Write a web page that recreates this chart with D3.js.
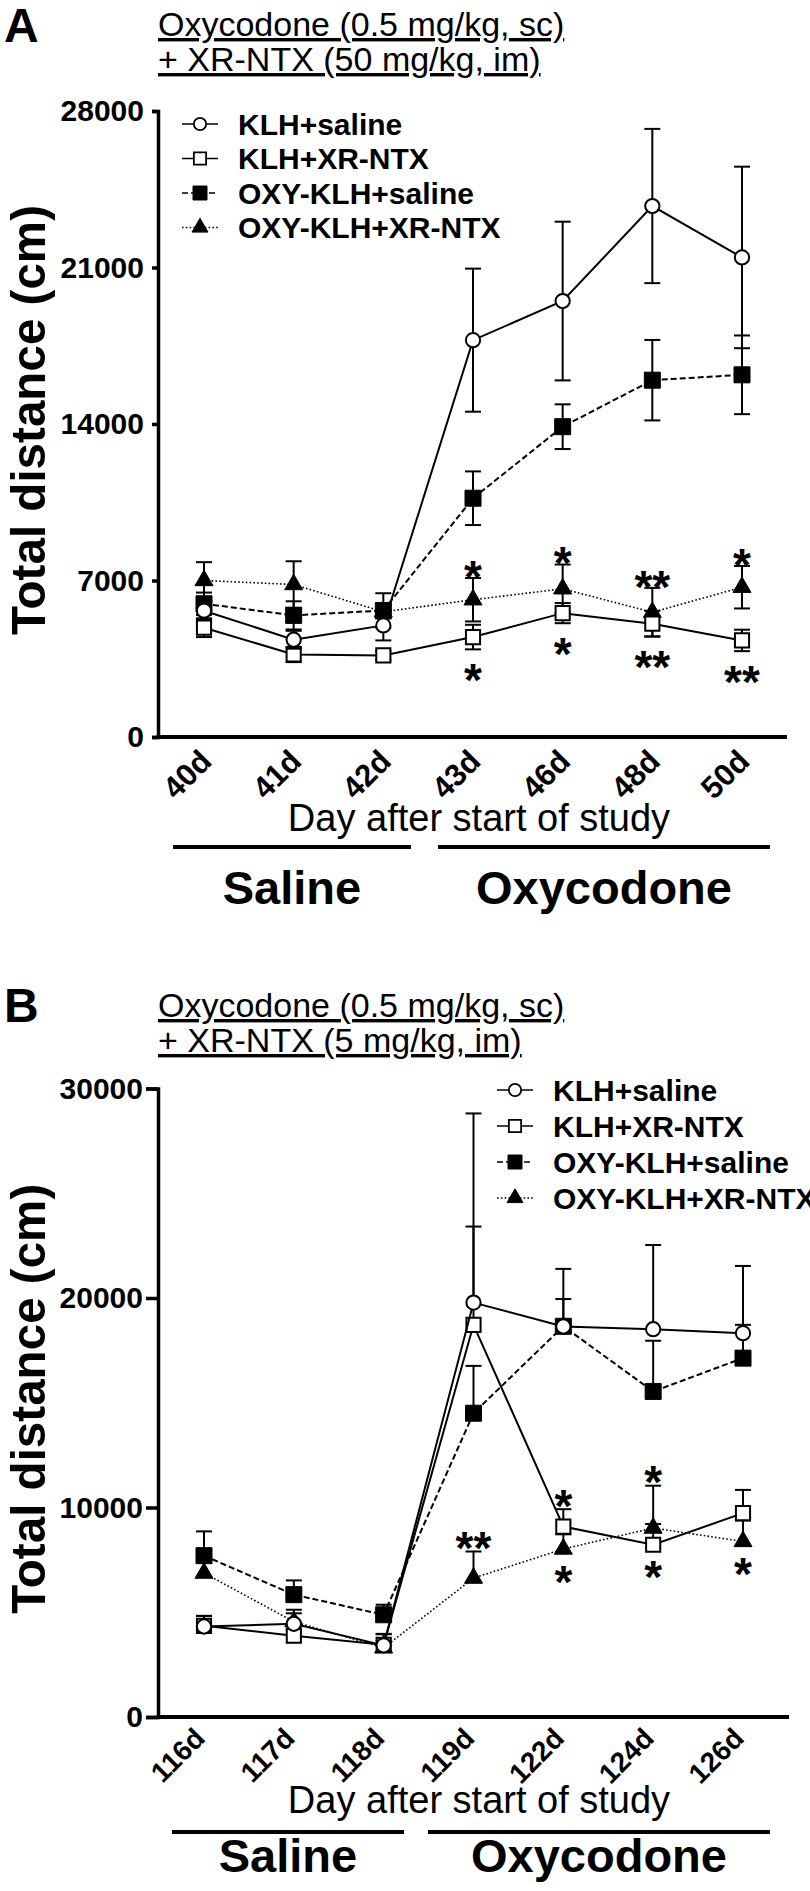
<!DOCTYPE html>
<html>
<head>
<meta charset="utf-8">
<script src="https://cdn.jsdelivr.net/npm/d3@7"></script>
<style>
  body { margin: 0; background: #fff; }
  svg { display: block; font-family: "Liberation Sans", Arial, Helvetica, sans-serif; }
</style>
</head>
<body>
<div id="chart"></div>
<script>
// ---- data ----
var seriesNames = ["KLH+saline", "KLH+XR-NTX", "OXY-KLH+saline", "OXY-KLH+XR-NTX"];

// panel A: XR-NTX 50 mg/kg
var daysA = ["40d", "41d", "42d", "43d", "46d", "48d", "50d"];
var klhSalineA    = [5650, 4350, 4990, 17750, 19500, 23750, 21450];
var klhSalineSemA = [400, 400, 670, 3200, 3550, 3450, 4060];
var klhXrntxA     = [4890, 3690, 3650, 4470, 5540, 5070, 4320];
var klhXrntxSemA  = [420, 340, 200, 550, 450, 570, 480];
var oxySalineA    = [5960, 5440, 5660, 10680, 13880, 15960, 16200];
var oxySalineSemA = [500, 630, 770, 1200, 1000, 1800, 1760];
var oxyXrntxA     = [7000, 6820, 5600, 6140, 6630, 5580, 6700];
var oxyXrntxSemA  = [820, 1040, 300, 970, 1085, 1090, 950];
var yTicksA = [0, 7000, 14000, 21000, 28000];
var titleA = ["Oxycodone (0.5 mg/kg, sc)", "+ XR-NTX (50 mg/kg, im)"];
var starsA = [
  { day: "43d", text: "*", series: 3, side: "above" },
  { day: "43d", text: "*", series: 1, side: "below" },
  { day: "46d", text: "*", series: 3, side: "above" },
  { day: "46d", text: "*", series: 1, side: "below" },
  { day: "48d", text: "**", series: 3, side: "above" },
  { day: "48d", text: "**", series: 1, side: "below" },
  { day: "50d", text: "*", series: 3, side: "above" },
  { day: "50d", text: "**", series: 1, side: "below" }
];

// panel B: XR-NTX 5 mg/kg
var daysB = ["116d", "117d", "118d", "119d", "122d", "124d", "126d"];
var klhSalineB    = [4320, 4450, 3420, 19780, 18640, 18510, 18320];
var klhSalineSemB = [500, 670, 550, 9030, 2750, 4020, 3210];
var klhXrntxB     = [4350, 3880, 3450, 18720, 9090, 8220, 9730];
var klhXrntxSemB  = [480, 300, 500, 4690, 830, 990, 1110];
var oxySalineB    = [7700, 5840, 4880, 14500, 18650, 15540, 17130];
var oxySalineSemB = [1160, 680, 480, 2260, 1300, 2420, 1590];
var oxyXrntxB     = [6870, 4550, 3300, 6630, 8020, 9020, 8380];
var oxyXrntxSemB  = [600, 400, 350, 1270, 700, 2020, 1000];
var yTicksB = [0, 10000, 20000, 30000];
var titleB = ["Oxycodone (0.5 mg/kg, sc)", "+ XR-NTX (5 mg/kg, im)"];
var starsB = [
  { day: "119d", text: "**", series: 3, side: "above" },
  { day: "122d", text: "*", series: 1, side: "above" },
  { day: "122d", text: "*", series: 3, side: "below" },
  { day: "124d", text: "*", series: 3, side: "above" },
  { day: "124d", text: "*", series: 1, side: "below" },
  { day: "126d", text: "*", series: 3, side: "below" }
];

var xTitle = "Day after start of study";
var yTitle = "Total distance (cm)";
var groupNames = ["Saline", "Oxycodone"];

// ---- styles ----
var FONT = "'Liberation Sans', Arial, Helvetica, sans-serif";
var shapes = [d3.symbolCircle, d3.symbolSquare, d3.symbolSquare, d3.symbolTriangle];
var symSize = [160, 200, 256, 140];
var legendSymSize = [120, 150, 196, 110];
var fills = ["#fff", "#fff", "#000", "#000"];
var dashes = [null, null, "6,3", "1.6,2.2"];
var lineW = [2, 2, 2, 1.6];
var drawOrder = [3, 2, 1, 0];
var STAR = 46;

var svg = d3.select("#chart").append("svg")
  .attr("width", 810)
  .attr("height", 1891);

function drawPanel(p) {
  var g = svg.append("g");

  var x = d3.scalePoint().domain(p.days).range(p.pointRange);
  var y = d3.scaleLinear().domain([0, p.yMax]).range([p.yBottom, p.yTop]);

  // panel letter + title
  g.append("text")
    .attr("x", 4).attr("y", p.letterY)
    .attr("font-size", 48).attr("font-weight", "bold")
    .text(p.letter);

  p.title.forEach(function(t, i) {
    g.append("text")
      .attr("x", 158).attr("y", p.titleY[i])
      .attr("font-size", 34)
      .style("text-decoration", "underline")
      .text(t);
  });

  // y axis
  var yAxis = d3.axisLeft(y)
    .tickValues(p.yTicks)
    .tickSize(p.tickSize)
    .tickPadding(p.tickPad)
    .tickFormat(d3.format("d"));
  var ya = g.append("g")
    .attr("transform", "translate(" + p.xLeft + ",0)")
    .call(yAxis);
  ya.attr("font-family", FONT);
  ya.selectAll("text").attr("font-size", 30).attr("font-weight", "bold");
  ya.selectAll("path, line").attr("stroke", "#000").attr("stroke-width", 3.5);

  // x axis line
  g.append("line")
    .attr("x1", p.xLeft - 1.5).attr("x2", p.xRight)
    .attr("y1", y(0)).attr("y2", y(0))
    .attr("stroke", "#000").attr("stroke-width", 4);

  // x tick labels, rotated
  var xa = g.append("g")
    .attr("transform", "translate(0," + y(0) + ")")
    .call(d3.axisBottom(x).tickSize(0));
  xa.select(".domain").remove();
  xa.attr("font-family", FONT);
  xa.selectAll("text")
    .attr("font-size", p.xLabSize).attr("font-weight", "bold")
    .attr("x", 0).attr("y", 0).attr("dy", null)
    .attr("text-anchor", "end")
    .attr("transform", "translate(" + p.xLabDx + "," + p.xLabDy + ") rotate(-45)");

  // series
  drawOrder.forEach(function(si) {
    var vals = p.values[si], sems = p.sems[si];
    var pts = p.days.map(function(d, i) { return { day: d, v: vals[i], s: sems[i] }; });

    var line = d3.line()
      .x(function(d) { return x(d.day); })
      .y(function(d) { return y(d.v); });

    g.append("path")
      .attr("d", line(pts))
      .attr("fill", "none")
      .attr("stroke", "#000")
      .attr("stroke-width", lineW[si])
      .attr("stroke-dasharray", dashes[si]);

    // error bars (SEM)
    pts.forEach(function(d) {
      var cx = x(d.day);
      var ends = [d.v + d.s];
      if (p.twoSided) ends.push(d.v - d.s);
      ends.forEach(function(e) {
        g.append("line")
          .attr("x1", cx).attr("x2", cx)
          .attr("y1", y(d.v)).attr("y2", y(e))
          .attr("stroke", "#000").attr("stroke-width", 2);
        g.append("line")
          .attr("x1", cx - 8).attr("x2", cx + 8)
          .attr("y1", y(e)).attr("y2", y(e))
          .attr("stroke", "#000").attr("stroke-width", 2);
      });
    });

    g.selectAll(null)
      .data(pts)
      .enter()
      .append("path")
      .attr("d", d3.symbol().type(shapes[si]).size(symSize[si]))
      .attr("transform", function(d) { return "translate(" + x(d.day) + "," + y(d.v) + ")"; })
      .attr("fill", fills[si])
      .attr("stroke", "#000")
      .attr("stroke-width", fills[si] === "#fff" ? 2 : 1);
  });

  // significance stars
  p.stars.forEach(function(st) {
    var i = p.days.indexOf(st.day);
    var v = p.values[st.series][i], s = p.sems[st.series][i];
    var cy;
    if (st.side === "above") cy = y(v + s) - p.starAbove;
    else cy = (p.twoSided ? y(v - s) : y(v)) + p.starBelow;
    g.append("text")
      .attr("x", x(st.day)).attr("y", cy + 0.58 * STAR)
      .attr("text-anchor", "middle")
      .attr("font-size", STAR).attr("font-weight", "bold")
      .text(st.text);
  });

  // legend
  seriesNames.forEach(function(name, si) {
    var ly = p.legendY[si];
    g.append("line")
      .attr("x1", p.legendX - 18).attr("x2", p.legendX + 18)
      .attr("y1", ly).attr("y2", ly)
      .attr("stroke", "#000").attr("stroke-width", 1.6)
      .attr("stroke-dasharray", dashes[si]);
    g.append("path")
      .attr("d", d3.symbol().type(shapes[si]).size(legendSymSize[si]))
      .attr("transform", "translate(" + p.legendX + "," + ly + ")")
      .attr("fill", fills[si])
      .attr("stroke", "#000")
      .attr("stroke-width", fills[si] === "#fff" ? 1.8 : 1);
    g.append("text")
      .attr("x", p.legendX + 38).attr("y", ly)
      .attr("dy", "0.36em")
      .attr("font-size", 30).attr("font-weight", "bold")
      .text(name);
  });

  // y title
  g.append("text")
    .attr("transform", "translate(45," + ((p.yTop + p.yBottom) / 2 - 4) + ") rotate(-90)")
    .attr("text-anchor", "middle")
    .attr("font-size", 49).attr("font-weight", "bold")
    .attr("textLength", 430).attr("lengthAdjust", "spacingAndGlyphs")
    .text(yTitle);

  // x title
  g.append("text")
    .attr("x", 479).attr("y", p.xTitleY)
    .attr("text-anchor", "middle")
    .attr("font-size", 38)
    .text(xTitle);

  // treatment groups
  groupNames.forEach(function(name, k) {
    var ext = p.groupX[k];
    g.append("line")
      .attr("x1", ext[0]).attr("x2", ext[1])
      .attr("y1", p.groupLineY).attr("y2", p.groupLineY)
      .attr("stroke", "#000").attr("stroke-width", 4);
    g.append("text")
      .attr("x", (ext[0] + ext[1]) / 2).attr("y", p.groupLabelY)
      .attr("text-anchor", "middle")
      .attr("font-size", 47).attr("font-weight", "bold")
      .text(name);
  });
}

drawPanel({
  letter: "A", letterY: 42,
  title: titleA, titleY: [36, 71],
  days: daysA,
  values: [klhSalineA, klhXrntxA, oxySalineA, oxyXrntxA],
  sems: [klhSalineSemA, klhXrntxSemA, oxySalineSemA, oxyXrntxSemA],
  yMax: 28000, yTicks: yTicksA,
  yTop: 111, yBottom: 737, xLeft: 158, xRight: 787, pointRange: [204, 742],
  tickSize: 6, tickPad: 8,
  xLabSize: 31, xLabDx: 9, xLabDy: 26,
  twoSided: true, stars: starsA, starAbove: 12, starBelow: 20,
  legendX: 200, legendY: [124, 158.5, 193, 227.5],
  xTitleY: 831, groupLineY: 847, groupLabelY: 904,
  groupX: [[173, 411], [438, 770]]
});

drawPanel({
  letter: "B", letterY: 1022,
  title: titleB, titleY: [1017, 1052],
  days: daysB,
  values: [klhSalineB, klhXrntxB, oxySalineB, oxyXrntxB],
  sems: [klhSalineSemB, klhXrntxSemB, oxySalineSemB, oxyXrntxSemB],
  yMax: 30000, yTicks: yTicksB,
  yTop: 1088.5, yBottom: 1717, xLeft: 158, xRight: 789, pointRange: [204, 743],
  tickSize: 12, tickPad: 3,
  xLabSize: 28, xLabDx: 2, xLabDy: 23,
  twoSided: false, stars: starsB, starAbove: 14, starBelow: 22,
  legendX: 515, legendY: [1090, 1126, 1162, 1198],
  xTitleY: 1813, groupLineY: 1832, groupLabelY: 1872,
  groupX: [[172, 404], [428, 770]]
});
</script>
</body>
</html>
